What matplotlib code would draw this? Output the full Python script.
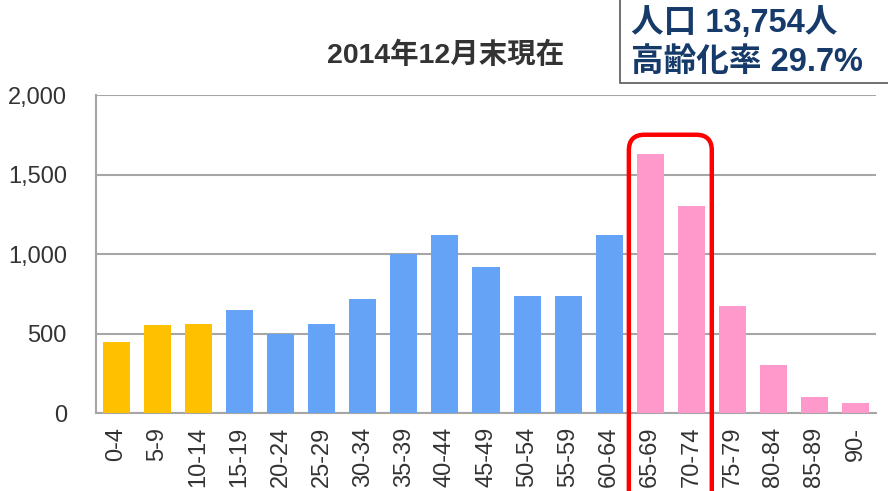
import matplotlib
matplotlib.use("Agg")
import matplotlib.pyplot as plt
from matplotlib.patches import FancyBboxPatch, Rectangle
from matplotlib.ticker import FuncFormatter

plt.rcParams['font.family'] = ['Liberation Sans', 'Noto Sans CJK JP', 'DejaVu Sans']

# data (persons per 5-year age group)
age_groups = ["0-4", "5-9", "10-14", "15-19", "20-24", "25-29", "30-34", "35-39",
              "40-44", "45-49", "50-54", "55-59", "60-64", "65-69", "70-74",
              "75-79", "80-84", "85-89", "90-"]
population = [446, 552, 558, 646, 500, 558, 714, 998, 1120, 920, 733, 733, 1120,
              1632, 1305, 671, 302, 102, 64]
group_kind = ["young"] * 3 + ["working"] * 10 + ["old"] * 6
kind_colors = {"young": "#FFC000", "working": "#65A3F6", "old": "#FF99CC"}
highlight = ["65-69", "70-74"]

title = "2014年12月末現在"
info_lines = ["人口 13,754人", "高齢化率 29.7%"]

fig = plt.figure(figsize=(8.88, 4.91), dpi=100)
ax = fig.add_axes([96 / 888, 1 - 413 / 491, 780 / 888, 318 / 491])

x = list(range(len(age_groups)))
ax.bar(x, population, width=0.66, color=[kind_colors[k] for k in group_kind], zorder=3)

ax.set_xlim(-0.5, len(age_groups) - 0.5)
ax.set_ylim(0, 2000)
ax.set_yticks([0, 500, 1000, 1500, 2000])
ax.yaxis.set_major_formatter(FuncFormatter(lambda v, p: f"{int(v):,}"))
ax.set_xticks(x)
ax.set_xticklabels(age_groups, rotation=90)

ax.grid(axis="y", color="#A6A6A6", linewidth=1.5, zorder=0)
for side in ["top", "right"]:
    ax.spines[side].set_visible(False)
for side in ["left", "bottom"]:
    ax.spines[side].set_color("#A6A6A6")
    ax.spines[side].set_linewidth(1.5)
ax.tick_params(axis="y", length=0, pad=21, labelsize=17, labelcolor="#333333")
ax.tick_params(axis="x", length=0, pad=10, labelsize=17, labelcolor="#333333")

# red rounded frame around the 65-74 bars
i0 = age_groups.index(highlight[0])
i1 = age_groups.index(highlight[-1])
asp = (2000 / 318) * (780 / len(age_groups))
frame = FancyBboxPatch((i0 - 0.52, -700), (i1 - i0) + 1.02, 2450,
                       boxstyle="round,pad=0,rounding_size=0.38",
                       mutation_aspect=asp, facecolor="none",
                       edgecolor="#FF0000", linewidth=3.2,
                       clip_on=False, zorder=5)
ax.add_patch(frame)

fig.text(446 / 888, 1 - 55 / 491, title, ha="center", va="center",
         fontsize=20.5, fontweight="bold", color="#333333")

# info box in the top right corner
box = Rectangle((620 / 888, 1 - 83 / 491), 0.4, 0.3, transform=fig.transFigure,
                facecolor="white", edgecolor="#595959", linewidth=1.2,
                clip_on=False, zorder=6)
fig.patches.append(box)
fig.text(631 / 888, 1 - 23 / 491, info_lines[0], ha="left", va="center",
         fontsize=23.5, fontweight="bold", color="#163A6A", zorder=7)
fig.text(631 / 888, 1 - 62 / 491, info_lines[1], ha="left", va="center",
         fontsize=23.5, fontweight="bold", color="#163A6A", zorder=7)

fig.savefig("out.png", dpi=100)
